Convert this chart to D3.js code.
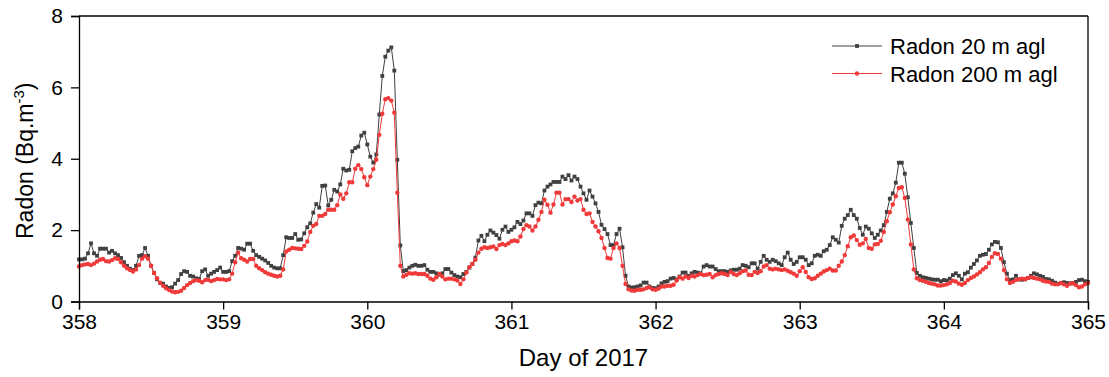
<!DOCTYPE html>
<html>
<head>
<meta charset="utf-8">
<script src="https://cdn.jsdelivr.net/npm/d3@7"></script>
<style>
  html, body { margin: 0; padding: 0; background: #fff; }
  svg text { font-family: "Liberation Sans", Arial, sans-serif; fill: #000; }
</style>
</head>
<body>
<svg id="chart" width="1109" height="377"></svg>
<script>
// ---- data (half-hourly samples, day 358 to day 365 of 2017) ----
const startDay = 358;
const samplesPerDay = 48;
const xTickValues = [358, 359, 360, 361, 362, 363, 364, 365];
const yTickValues = [0, 2, 4, 6, 8];
const seriesNames = ["Radon 20 m agl", "Radon 200 m agl"];

const radon20 = [
1.18,1.18,1.20,1.35,1.63,1.35,1.28,1.48,1.48,1.48,
1.37,1.42,1.35,1.30,1.22,1.10,1.00,0.92,0.88,1.00,
1.28,1.30,1.50,1.28,1.00,0.80,0.62,0.52,0.50,0.42,
0.38,0.40,0.50,0.60,0.77,0.85,0.83,0.72,0.70,0.65,
0.63,0.85,0.90,0.72,0.78,0.83,0.88,0.95,0.83,0.83,
0.85,1.13,1.28,1.50,1.48,1.45,1.62,1.62,1.42,1.30,
1.25,1.20,1.15,1.08,1.00,0.95,0.93,0.93,1.30,1.80,
1.78,1.78,1.89,1.73,1.74,1.91,2.08,2.19,2.49,2.73,
2.63,3.24,3.25,2.69,2.85,3.13,3.08,3.28,3.72,3.67,
3.69,4.21,4.30,4.34,4.65,4.73,4.40,4.06,3.89,4.12,
5.24,6.32,6.86,7.03,7.12,6.47,3.97,1.57,0.85,0.88,
0.95,1.00,1.03,1.00,1.00,1.02,0.89,0.83,0.83,0.79,
0.75,0.79,0.91,0.91,0.81,0.74,0.70,0.68,0.77,0.83,
0.95,1.05,1.23,1.71,1.84,1.69,1.87,1.99,1.93,1.86,
1.76,2.01,2.10,1.95,2.01,2.08,2.23,2.17,2.27,2.47,
2.47,2.40,2.70,2.77,2.75,3.11,3.22,3.28,3.35,3.35,
3.35,3.50,3.43,3.54,3.39,3.50,3.43,3.22,3.03,2.85,
3.11,2.94,2.75,2.51,2.15,2.03,1.89,1.58,1.58,1.89,
2.04,1.52,0.72,0.42,0.39,0.40,0.42,0.45,0.53,0.53,
0.42,0.38,0.37,0.42,0.51,0.55,0.57,0.64,0.66,0.62,
0.70,0.81,0.81,0.72,0.79,0.83,0.81,0.79,0.98,1.02,
0.98,0.98,0.91,0.85,0.85,0.85,0.83,0.87,0.89,0.89,
0.92,1.02,1.00,0.96,1.07,1.07,0.92,1.11,1.28,1.17,
1.11,1.17,1.13,1.07,1.02,1.24,1.37,1.17,1.05,1.11,
1.24,1.24,1.17,1.02,1.07,1.28,1.31,1.28,1.41,1.45,
1.58,1.80,1.73,1.65,2.12,2.32,2.42,2.57,2.42,2.32,
2.06,1.87,2.10,2.04,1.91,1.78,1.87,1.99,2.14,2.51,
2.88,3.03,3.33,3.89,3.89,3.58,2.92,2.20,1.50,0.80,
0.72,0.68,0.66,0.64,0.62,0.61,0.61,0.57,0.60,0.59,
0.64,0.74,0.79,0.72,0.62,0.78,0.82,0.95,1.05,1.15,
1.28,1.31,1.33,1.45,1.60,1.67,1.66,1.50,1.10,0.78,
0.60,0.62,0.72,0.62,0.61,0.62,0.66,0.72,0.79,0.76,
0.72,0.69,0.63,0.62,0.58,0.53,0.50,0.51,0.54,0.52,
0.51,0.51,0.55,0.60,0.61,0.57,0.55
];

const radon200 = [
0.98,1.02,1.04,1.05,1.02,1.06,1.12,1.17,1.19,1.13,
1.12,1.16,1.21,1.19,1.10,1.00,0.93,0.88,0.84,0.90,
1.02,1.20,1.27,1.20,1.00,0.80,0.65,0.53,0.44,0.37,
0.32,0.28,0.26,0.27,0.30,0.38,0.46,0.52,0.57,0.60,
0.58,0.54,0.60,0.61,0.57,0.60,0.63,0.62,0.62,0.60,
0.62,0.78,1.10,1.37,1.21,1.17,1.12,1.19,1.19,1.00,
0.93,0.88,0.82,0.78,0.75,0.72,0.70,0.72,0.90,1.40,
1.45,1.50,1.49,1.48,1.47,1.56,1.68,1.95,2.12,2.17,
2.40,2.40,2.45,2.57,2.57,2.57,2.70,3.00,2.88,3.03,
3.34,3.34,3.72,3.82,3.71,3.48,3.26,3.50,3.71,3.97,
4.67,5.26,5.67,5.70,5.63,5.29,3.05,1.00,0.70,0.75,
0.79,0.78,0.79,0.77,0.77,0.77,0.72,0.64,0.61,0.68,
0.77,0.70,0.62,0.64,0.64,0.62,0.59,0.49,0.62,0.81,
0.96,1.05,1.17,1.37,1.48,1.52,1.50,1.52,1.54,1.47,
1.58,1.61,1.58,1.63,1.69,1.71,1.69,1.82,2.03,2.14,
2.10,1.99,2.10,2.29,2.51,2.85,2.71,2.49,2.72,3.05,
3.05,2.72,2.87,2.87,2.79,2.94,2.83,2.87,2.57,2.45,
2.47,2.23,2.10,1.97,1.78,1.50,1.22,1.20,1.50,1.63,
1.50,1.00,0.49,0.34,0.31,0.30,0.33,0.33,0.34,0.38,
0.40,0.34,0.33,0.36,0.42,0.42,0.44,0.44,0.47,0.59,
0.68,0.64,0.70,0.66,0.72,0.70,0.74,0.77,0.74,0.75,
0.77,0.68,0.74,0.77,0.79,0.77,0.74,0.83,0.77,0.74,
0.79,0.85,0.87,0.75,0.74,0.83,0.80,0.85,0.98,1.02,
0.92,0.90,0.92,0.90,0.88,0.90,0.86,0.82,0.78,0.72,
0.85,0.96,0.83,0.68,0.63,0.65,0.72,0.78,0.84,0.88,
0.92,0.87,0.87,1.00,1.12,1.30,1.55,1.80,1.85,1.72,
1.59,1.63,1.75,1.50,1.48,1.60,1.61,1.70,1.95,2.25,
2.50,2.72,2.95,3.18,3.20,2.90,2.30,1.60,0.90,0.65,
0.60,0.58,0.55,0.52,0.50,0.48,0.45,0.45,0.46,0.48,
0.52,0.58,0.56,0.50,0.47,0.52,0.60,0.66,0.70,0.76,
0.82,0.90,0.96,1.08,1.25,1.35,1.33,1.20,0.88,0.62,
0.52,0.55,0.60,0.62,0.64,0.63,0.66,0.68,0.66,0.64,
0.62,0.58,0.56,0.55,0.50,0.48,0.48,0.52,0.48,0.44,
0.50,0.51,0.46,0.40,0.42,0.48,0.52
];

// ---- layout ----
const svg = d3.select("#chart");
const plot = { left: 79, right: 1088, top: 16, bottom: 301.5 };

const x = d3.scaleLinear().domain([358, 365]).range([plot.left, plot.right]);
const y = d3.scaleLinear().domain([0, 8]).range([plot.bottom, plot.top]);

const dayOf = i => startDay + i / samplesPerDay;

const col20 = "#404040";
const col200 = "#f03a3a";
const sq = 3.8;
const cr = 2.2;

// ---- series ----
const line = d3.line().x((d, i) => x(dayOf(i))).y(d => y(d));
const g = svg.append("g");

function drawSeries(vals, color, marker) {
  g.append("path").datum(vals)
    .attr("d", line).attr("fill", "none")
    .attr("stroke", color).attr("stroke-width", 1);
  if (marker === "square") {
    g.append("g").selectAll("rect").data(vals).join("rect")
      .attr("x", (d, i) => x(dayOf(i)) - sq / 2)
      .attr("y", d => y(d) - sq / 2)
      .attr("width", sq).attr("height", sq)
      .attr("fill", color);
  } else {
    g.append("g").selectAll("circle").data(vals).join("circle")
      .attr("cx", (d, i) => x(dayOf(i)))
      .attr("cy", d => y(d))
      .attr("r", cr)
      .attr("fill", color);
  }
}
drawSeries(radon20, col20, "square");
drawSeries(radon200, col200, "circle");

// ---- axes ----
const fontTick = 21;
const xMinor = d3.range(358, 365.001, 1 / 8);
const yMinor = [1, 3, 5, 7];

const xAxisG = svg.append("g").attr("transform", `translate(0,${plot.bottom})`);
xAxisG.call(d3.axisBottom(x).tickValues(xMinor).tickSize(4).tickFormat(""));
xAxisG.call(d3.axisBottom(x).tickValues(xTickValues).tickSize(8).tickPadding(5).tickFormat(d3.format("d")));
xAxisG.selectAll("text").attr("font-size", fontTick);

const yAxisG = svg.append("g").attr("transform", `translate(${plot.left},0)`);
yAxisG.call(d3.axisLeft(y).tickValues(yMinor).tickSize(4).tickFormat(""));
yAxisG.call(d3.axisLeft(y).tickValues(yTickValues).tickSize(8).tickPadding(8).tickFormat(d3.format("d")));
yAxisG.selectAll("text").attr("font-size", fontTick);

svg.selectAll(".domain").attr("stroke", "#000").attr("stroke-width", 1.3);
svg.selectAll(".tick line").attr("stroke", "#000").attr("stroke-width", 1.3);

// frame top & right
svg.append("line").attr("x1", plot.left).attr("x2", plot.right)
  .attr("y1", plot.top).attr("y2", plot.top).attr("stroke", "#000").attr("stroke-width", 1.3);
svg.append("line").attr("x1", plot.right).attr("x2", plot.right)
  .attr("y1", plot.top).attr("y2", plot.bottom).attr("stroke", "#000").attr("stroke-width", 1.3);

// ---- axis titles ----
svg.append("text")
  .attr("x", (plot.left + plot.right) / 2).attr("y", 366)
  .attr("text-anchor", "middle").attr("font-size", 24)
  .text("Day of 2017");

const yt = svg.append("text")
  .attr("transform", `translate(33,${(plot.top + plot.bottom) / 2 + 2}) rotate(-90)`)
  .attr("text-anchor", "middle").attr("font-size", 23);
yt.append("tspan").text("Radon (Bq.m");
yt.append("tspan").attr("font-size", 15).attr("dy", -9).text("-3");
yt.append("tspan").attr("dy", 9).text(")");

// ---- legend ----
const legend = svg.append("g");
const legendRows = [
  { name: seriesNames[0], color: col20, marker: "square", y: 46 },
  { name: seriesNames[1], color: col200, marker: "circle", y: 73.5 }
];
legendRows.forEach(r => {
  legend.append("line").attr("x1", 832).attr("x2", 882)
    .attr("y1", r.y).attr("y2", r.y).attr("stroke", r.color).attr("stroke-width", 1);
  if (r.marker === "square") {
    legend.append("rect").attr("x", 857 - sq / 2).attr("y", r.y - sq / 2)
      .attr("width", sq).attr("height", sq).attr("fill", r.color);
  } else {
    legend.append("circle").attr("cx", 857).attr("cy", r.y).attr("r", cr).attr("fill", r.color);
  }
  legend.append("text").attr("x", 890).attr("y", r.y + 8)
    .attr("font-size", 22).text(r.name);
});
</script>
</body>
</html>
